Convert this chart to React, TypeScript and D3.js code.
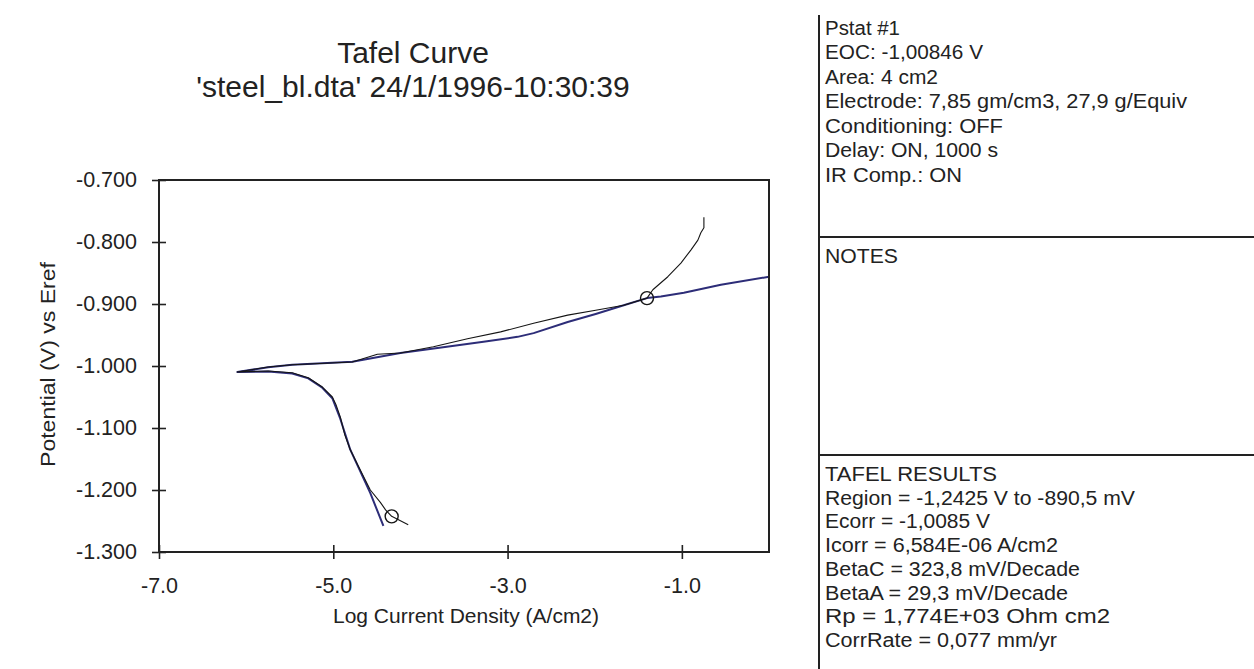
import React, { useEffect, useRef } from "react";
import * as d3 from "d3";

// ---------- data ----------
const xTicks = [-7, -5, -3, -1];
const yTicks = [-0.7, -0.8, -0.9, -1.0, -1.1, -1.2, -1.3];

// measured sweep (log current density, potential)
const measuredLogI = [
  -4.14, -4.33, -4.40, -4.46, -4.575, -4.70, -4.805, -4.87, -4.92, -4.97, -5.011, -5.126,
  -5.287, -5.471, -5.747, -6.103, -5.747, -5.471, -4.782, -4.494, -4.23, -3.851, -3.46,
  -3.08, -2.701, -2.31, -1.989, -1.667, -1.40, -1.333, -1.161, -1.011, -0.897, -0.816,
  -0.782, -0.747, -0.747,
];
const measuredE = [
  -1.256, -1.2425, -1.232, -1.22, -1.2, -1.165, -1.135, -1.11, -1.082, -1.062, -1.05, -1.034,
  -1.019, -1.011, -1.008, -1.0097, -1.0016, -0.998, -0.9935, -0.981, -0.979, -0.969, -0.956,
  -0.945, -0.931, -0.918, -0.91, -0.902, -0.8905, -0.877, -0.856, -0.834, -0.813, -0.797,
  -0.785, -0.777, -0.76,
];

// Tafel fit curve
const fitLogI = [
  -4.425, -4.575, -4.805, -4.92, -5.011, -5.126, -5.287, -5.471, -5.747, -6.10, -5.747,
  -5.471, -4.782, -4.23, -3.655, -3.276, -2.885, -2.701, -2.31, -1.989, -1.667, -1.40,
  -1.241, -0.977, -0.552, 0.0,
];
const fitE = [
  -1.258, -1.205, -1.135, -1.085, -1.052, -1.035, -1.02, -1.012, -1.009, -1.0097, -1.002,
  -0.998, -0.993, -0.979, -0.968, -0.961, -0.953, -0.947, -0.929, -0.916, -0.902, -0.8905,
  -0.888, -0.882, -0.869, -0.856,
];

// fit region markers
const regionLogI = [-4.33, -1.40];
const regionE = [-1.2425, -0.8905];

const titleLines = ["Tafel Curve", "'steel_bl.dta' 24/1/1996-10:30:39"];
const xLabel = "Log Current Density (A/cm2)";
const yLabel = "Potential (V) vs Eref";

const headerLines = [
  "Pstat #1",
  "EOC: -1,00846 V",
  "Area: 4 cm2",
  "Electrode: 7,85 gm/cm3, 27,9 g/Equiv",
  "Conditioning: OFF",
  "Delay: ON, 1000 s",
  "IR Comp.: ON",
];
const notesLines = ["NOTES"];
const resultLines = [
  "TAFEL RESULTS",
  "Region = -1,2425 V to -890,5 mV",
  "Ecorr = -1,0085 V",
  "Icorr = 6,584E-06 A/cm2",
  "BetaC = 323,8 mV/Decade",
  "BetaA = 29,3 mV/Decade",
  "Rp = 1,774E+03 Ohm cm2",
  "CorrRate = 0,077 mm/yr",
];

// ---------- layout (measured widths of text lines) ----------
const headerWidths = [75, 158, 113, 362, 178, 173, 137];
const notesWidths = [73];
const resultWidths = [172, 310, 165, 233, 255, 243, 285, 232];

const W = 1254;
const H = 669;
const plot = { left: 159, right: 769, top: 180, bottom: 552 };
const FONT = "'Liberation Sans', Arial, Helvetica, sans-serif";
const INK = "#222";

export default function App() {
  const xAxisRef = useRef<SVGGElement>(null);
  const yAxisRef = useRef<SVGGElement>(null);

  const x = d3.scaleLinear().domain([-7, 0]).range([plot.left, plot.right]);
  const y = d3.scaleLinear().domain([-1.3, -0.7]).range([plot.bottom, plot.top]);

  const line = d3
    .line<[number, number]>()
    .x((d) => x(d[0]))
    .y((d) => y(d[1]))
    .curve(d3.curveLinear);

  const measured: [number, number][] = measuredLogI.map((v, i) => [v, measuredE[i]]);
  const fit: [number, number][] = fitLogI.map((v, i) => [v, fitE[i]]);

  useEffect(() => {
    const tick = 7;
    const xa = d3
      .axisBottom(x)
      .tickValues(xTicks)
      .tickSize(tick)
      .tickPadding(19)
      .tickFormat((d) => (d as number).toFixed(1));
    const ga = d3.select(xAxisRef.current!);
    ga.call(xa as any);
    ga.select(".domain").remove();
    ga.selectAll(".tick line").attr("y1", -tick).attr("y2", tick).attr("stroke", INK).attr("stroke-width", 1.6);
    ga.selectAll(".tick text")
      .attr("fill", INK)
      .style("font-family", FONT)
      .style("font-size", "21.5px");

    const ya = d3
      .axisLeft(y)
      .tickValues(yTicks)
      .tickSize(tick)
      .tickPadding(15)
      .tickFormat((d) => (d as number).toFixed(3));
    const gy = d3.select(yAxisRef.current!);
    gy.call(ya as any);
    gy.select(".domain").remove();
    gy.selectAll(".tick line").attr("x1", tick).attr("x2", -tick).attr("stroke", INK).attr("stroke-width", 1.6);
    gy.selectAll(".tick text")
      .attr("fill", INK)
      .style("font-family", FONT)
      .style("font-size", "21.5px");
  }, []);

  const panelX = 819;
  const textX = 825;
  const topStart = 35;
  const topStep = 24.45;
  const notesSep = 237;
  const resultSep = 455;
  const resStart = 481;
  const resStep = 23.7;

  return (
    <svg
      width={W}
      height={H}
      viewBox={`0 0 ${W} ${H}`}
      style={{ position: "absolute", left: 0, top: 0, background: "#fff" }}
      fontFamily={FONT}
    >
      <rect x={0} y={0} width={W} height={H} fill="#fff" />

      {/* title */}
      {titleLines.map((t, i) => (
        <text key={t} x={413} y={63 + i * 34} textAnchor="middle" fontSize={30} fill={INK}>
          {t}
        </text>
      ))}

      {/* curves */}
      <path d={line(fit) ?? ""} fill="none" stroke="#2d2d78" strokeWidth={2} strokeLinejoin="round" />
      <path d={line(measured) ?? ""} fill="none" stroke="#151515" strokeWidth={1.1} strokeLinejoin="round" />
      {regionLogI.map((v, i) => (
        <circle key={i} cx={x(v)} cy={y(regionE[i])} r={6.5} fill="none" stroke="#151515" strokeWidth={1.4} />
      ))}

      {/* frame */}
      <rect
        x={plot.left}
        y={plot.top}
        width={plot.right - plot.left}
        height={plot.bottom - plot.top}
        fill="none"
        stroke={INK}
        strokeWidth={2}
      />
      <g ref={xAxisRef} transform={`translate(0,${plot.bottom})`} />
      <g ref={yAxisRef} transform={`translate(${plot.left},0)`} />

      {/* axis titles */}
      <text x={466} y={623} textAnchor="middle" fontSize={21} fill={INK}>
        {xLabel}
      </text>
      <text
        transform={`translate(55,467) rotate(-90)`}
        textAnchor="start"
        fontSize={20}
        fill={INK}
        textLength={205}
        lengthAdjust="spacingAndGlyphs"
      >
        {yLabel}
      </text>

      {/* right info panel */}
      <line x1={panelX} y1={15} x2={panelX} y2={H} stroke={INK} strokeWidth={2} />
      <line x1={panelX} y1={notesSep} x2={W} y2={notesSep} stroke={INK} strokeWidth={2} />
      <line x1={panelX} y1={resultSep} x2={W} y2={resultSep} stroke={INK} strokeWidth={2} />
      {headerLines.map((t, i) => (
        <text
          key={t}
          x={textX}
          y={topStart + i * topStep}
          fontSize={20}
          fill={INK}
          textLength={headerWidths[i]}
          lengthAdjust="spacingAndGlyphs"
        >
          {t}
        </text>
      ))}
      {notesLines.map((t, i) => (
        <text
          key={t}
          x={textX}
          y={notesSep + 26 + i * topStep}
          fontSize={20}
          fill={INK}
          textLength={notesWidths[i]}
          lengthAdjust="spacingAndGlyphs"
        >
          {t}
        </text>
      ))}
      {resultLines.map((t, i) => (
        <text
          key={t}
          x={textX}
          y={resStart + i * resStep}
          fontSize={20}
          fill={INK}
          textLength={resultWidths[i]}
          lengthAdjust="spacingAndGlyphs"
        >
          {t}
        </text>
      ))}
    </svg>
  );
}
